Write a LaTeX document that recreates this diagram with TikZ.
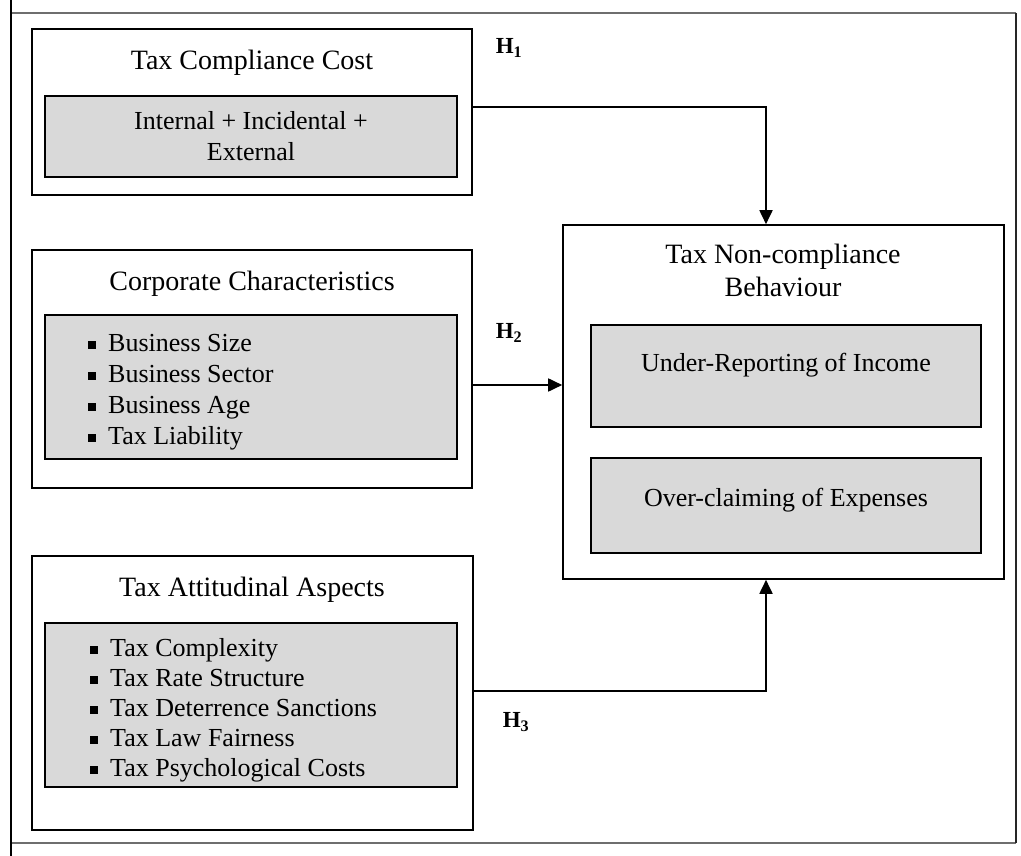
\documentclass[tikz,border=0pt]{standalone}
\usepackage{fontspec}
\setmainfont{Liberation Serif}
\usetikzlibrary{arrows.meta,calc}
\definecolor{innergray}{RGB}{217,217,217}
\definecolor{framegray}{RGB}{110,110,110}
\newcommand{\sqbullet}{\makebox[20pt][l]{\rule[2.5pt]{8pt}{8pt}}}

\begin{document}
\begin{tikzpicture}[x=1pt,y=-1pt,
  outerbox/.style={draw, line width=1.6pt, inner sep=0pt},
  innerbox/.style={draw, line width=1.6pt, fill=innergray, inner sep=0pt},
  boxtitle/.style={font=\fontsize{28}{33}\selectfont, align=center, inner sep=0pt},
  boxtext/.style={font=\fontsize{26}{31}\selectfont, align=center, inner sep=0pt},
  bulletlist/.style={font=\fontsize{26}{#1}\selectfont, align=left, inner sep=0pt, anchor=west},
  hlabel/.style={font=\fontsize{23}{27}\selectfont\bfseries, inner sep=0pt},
  link/.style={line width=1.8pt, -{Triangle[length=14pt,width=13pt]}}]
\useasboundingbox (0,0) rectangle (1021,856);
% frame
\draw[line width=1.2pt, framegray] (11,13) -- (1016,13);
\draw[line width=1.2pt, framegray] (11,843) -- (1016,843);
\draw[line width=1.4pt, black!85] (1016,13) -- (1016,843);
\draw[line width=1.6pt] (11,0) -- (11,856);
% tax compliance cost
\node[outerbox, minimum width=440, minimum height=166] (cost) at (252,112) {};
\node[boxtitle] (costtitle) at (252,63) {Tax Compliance Cost};
\node[innerbox, minimum width=412, minimum height=81] (costin) at (251,136.5) {};
\node[boxtext] (costtxt) at (251,136) {Internal + Incidental +\\ External};
% corporate characteristics
\node[outerbox, minimum width=440, minimum height=238] (corp) at (252,369) {};
\node[boxtitle] (corptitle) at (252,284) {Corporate Characteristics};
\node[innerbox, minimum width=412, minimum height=144] (corpin) at (251,387) {};
\node[bulletlist=31] (corplist) at (88,392) {\sqbullet Business Size\\ \sqbullet Business Sector\\ \sqbullet Business Age\\ \sqbullet Tax Liability};
% tax attitudinal aspects
\node[outerbox, minimum width=441, minimum height=274] (att) at (252.5,693) {};
\node[boxtitle] (atttitle) at (252,590) {Tax Attitudinal Aspects};
\node[innerbox, minimum width=412, minimum height=164] (attin) at (251,705) {};
\node[bulletlist=30] (attlist) at (90,710) {\sqbullet Tax Complexity\\ \sqbullet Tax Rate Structure\\ \sqbullet Tax Deterrence Sanctions\\ \sqbullet Tax Law Fairness\\ \sqbullet Tax Psychological Costs};
% tax non-compliance behaviour
\node[outerbox, minimum width=441, minimum height=354] (ncb) at (783.5,402) {};
\node[boxtitle] (ncbtitle) at (783,270) {Tax Non-compliance\\ Behaviour};
\node[innerbox, minimum width=390, minimum height=102] (under) at (786,376) {};
\node[boxtext] (undertxt) at (786,365) {Under-Reporting of Income};
\node[innerbox, minimum width=390, minimum height=95] (over) at (786,505.5) {};
\node[boxtext] (overtxt) at (786,500) {Over-claiming of Expenses};
% hypotheses
\node[hlabel] (h1) at (509,48) {H\textsubscript{1}};
\node[hlabel] (h2) at (509,333) {H\textsubscript{2}};
\node[hlabel] (h3) at (516,722) {H\textsubscript{3}};
\coordinate (h1turn) at (766,107);
\coordinate (h2pt) at (563,385);
\coordinate (h3turn) at (766,691);
\draw[link] (cost.east |- h1turn) -- (h1turn) -- (h1turn |- ncb.north);
\draw[link] (corp.east |- h2pt) -- (ncb.west |- h2pt);
\draw[link] (att.east |- h3turn) -- (h3turn) -- (h3turn |- ncb.south);
\end{tikzpicture}
\end{document}
